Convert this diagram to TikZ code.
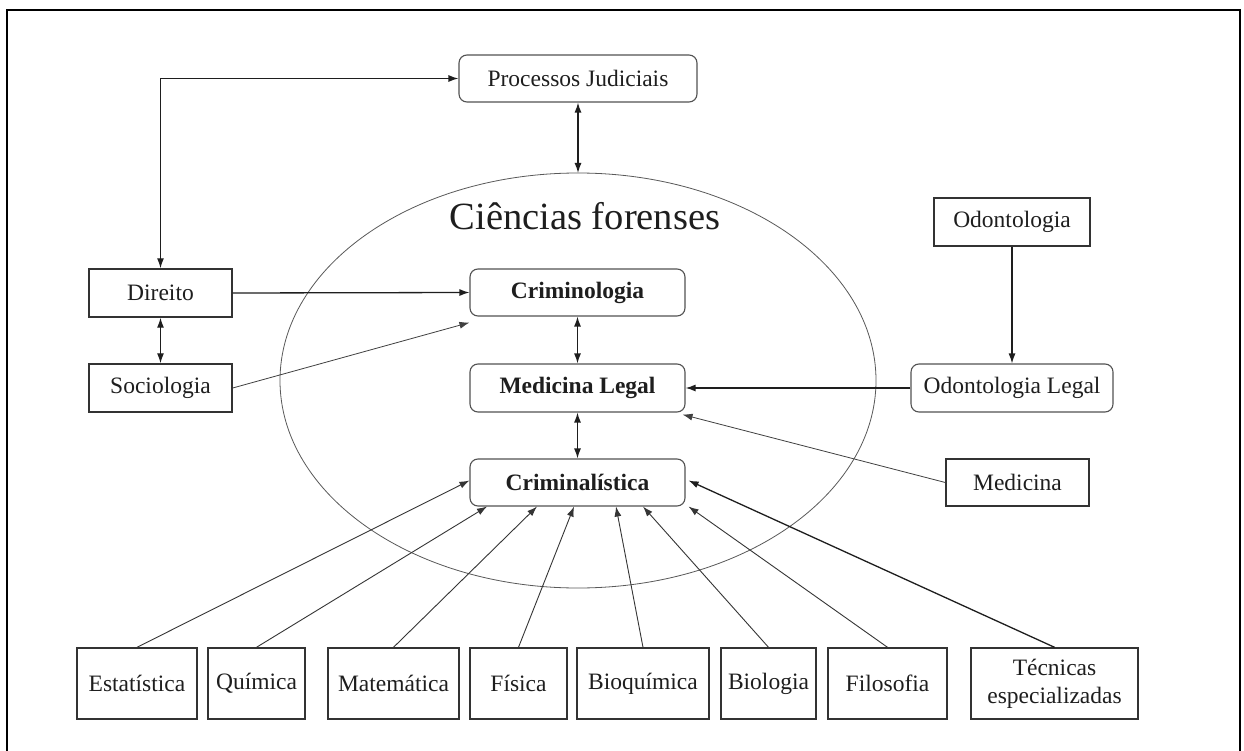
\documentclass[tikz,border=0pt]{standalone}
\usepackage{fontspec}
\setmainfont{Liberation Serif}
\usetikzlibrary{arrows.meta}
\definecolor{ink}{HTML}{1E1E1E}
\definecolor{edge}{HTML}{333333}
\begin{document}
\begin{tikzpicture}[x=1pt,y=-1pt,
  >={Latex[length=10pt,width=7pt]},
  lbl/.style={font=\fontsize{23.5}{28}\selectfont, text=ink, inner sep=0pt, align=center},
  sq/.style={lbl, draw=edge, line width=1.4pt},
  rd/.style={lbl, draw=edge!85, line width=1.1pt, rounded corners=8pt},
  con/.style={draw=ink, line width=1.3pt},
  thin/.style={draw=ink!85, line width=0.8pt},
  low/.style={draw=ink!90, line width=0.9pt}]
\useasboundingbox (0,0) rectangle (1244,751);
\fill[white] (0,0) rectangle (1244,751);
% frame (no bottom side)
\draw[line width=2.5pt, black] (7,751) -- (7,10) -- (1240,10) -- (1240,751);

% ellipse
\draw[gray!70!black, line width=0.8pt] (578,380.5) ellipse [x radius=298, y radius=207.5];
\node[lbl, font=\fontsize{38.5}{44}\selectfont, anchor=base] (title) at (585,230) {Ciências forenses};

% nodes
\node[rd, minimum width=238pt, minimum height=47pt] (proc) at (578,78.5) {Processos Judiciais};
\node[sq, minimum width=143pt, minimum height=48pt] (dir) at (160.5,293) {Direito};
\node[sq, minimum width=143pt, minimum height=48pt] (soc) at (160.5,388) {Sociologia};
\node[rd, minimum width=215pt, minimum height=47pt, font=\fontsize{23.5}{28}\selectfont\bfseries] (crimi) at (577.5,292.5) {Criminologia};
\node[rd, minimum width=215pt, minimum height=48pt, font=\fontsize{23.5}{28}\selectfont\bfseries] (medl) at (577.5,388) {Medicina Legal};
\node[rd, minimum width=215pt, minimum height=47pt, font=\fontsize{23.5}{28}\selectfont\bfseries] (crim) at (577.5,482.5) {Criminalística};
\node[sq, minimum width=156pt, minimum height=48pt] (odo) at (1012,222) {Odontologia};
\node[rd, minimum width=202pt, minimum height=48pt] (odl) at (1012,388) {Odontologia Legal};
\node[sq, minimum width=143pt, minimum height=47pt] (med) at (1017.5,482.5) {Medicina};

\node[sq, minimum width=120pt, minimum height=71pt] (est) at (137,683.5) {Estatística};
\node[sq, minimum width=97pt, minimum height=71pt] (qui) at (256.5,683.5) {Química};
\node[sq, minimum width=131pt, minimum height=71pt] (mat) at (393.5,683.5) {Matemática};
\node[sq, minimum width=97pt, minimum height=71pt] (fis) at (518.5,683.5) {Física};
\node[sq, minimum width=132pt, minimum height=71pt] (bioq) at (643,683.5) {Bioquímica};
\node[sq, minimum width=95pt, minimum height=71pt] (bio) at (768.5,683.5) {Biologia};
\node[sq, minimum width=119pt, minimum height=71pt] (fil) at (887.5,683.5) {Filosofia};
\node[sq, minimum width=167pt, minimum height=71pt, font=\fontsize{23.5}{28}\selectfont] (tec) at (1054.5,683.5) {Técnicas\\especializadas};

\coordinate (etop) at (578,173);

% connectors
\draw[con, <->] (dir.north) |- (proc.west);
\draw[con, <->] (proc.south) -- (etop);
\draw[con, <->] (dir.south) -- (soc.north);
\draw[con, ->] (dir.east) -- (crimi.west);
\draw[thin, ->] (soc.east) -- ([yshift=-6pt]crimi.south west);
\draw[con, <->] (crimi.south) -- (medl.north);
\draw[con, <->] (medl.south) -- (crim.north);
\draw[con, ->] (odo.south) -- (odl.north);
\draw[con, ->] (odl.west) -- (medl.east);
\draw[thin, ->] (med.west) -- ([xshift=-3pt,yshift=-2pt]medl.south east);

\draw[low, ->] (est.north) -- ([yshift=2pt]crim.west);
\draw[low, ->] (qui.north) -- ([xshift=-90.5pt]crim.south);
\draw[low, ->] (mat.north) -- ([xshift=-40.5pt]crim.south);
\draw[low, ->] (fis.north) -- ([xshift=-3.5pt]crim.south);
\draw[low, ->] (bioq.north) -- ([xshift=38.5pt]crim.south);
\draw[low, ->] (bio.north) -- ([xshift=65.5pt]crim.south);
\draw[low, ->] (fil.north) -- ([xshift=3pt]crim.south east);
\draw[con, ->] (tec.north) -- ([xshift=3pt,yshift=2pt]crim.east);
\end{tikzpicture}
\end{document}
